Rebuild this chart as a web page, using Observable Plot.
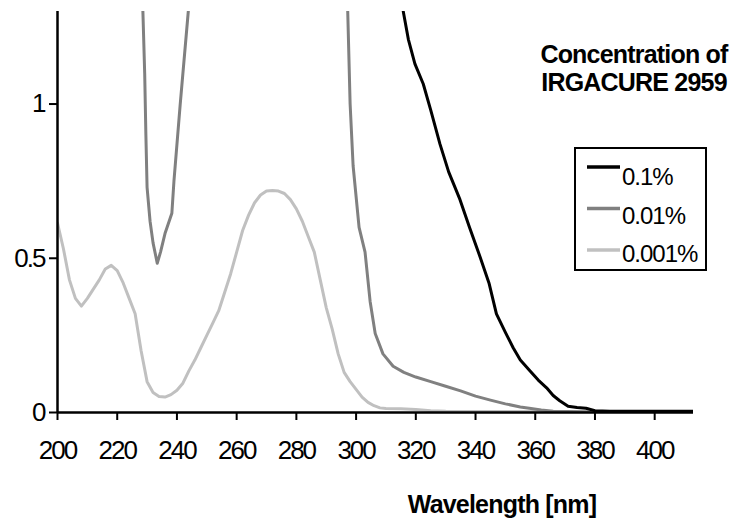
<!DOCTYPE html>
<html><head><meta charset="utf-8">
<script src="https://cdn.jsdelivr.net/npm/d3@7"></script>
<script src="https://cdn.jsdelivr.net/npm/@observablehq/plot@0.6"></script>
<style>
body{margin:0;background:#fff;}
#wrap{position:relative;width:735px;height:520px;font-family:"Liberation Sans",Arial,sans-serif;}
#chart svg text{letter-spacing:-2px;}
#over{position:absolute;left:0;top:0;pointer-events:none;}
</style></head><body>
<div id="wrap"><div id="chart"></div></div>
<script>
// Series names and colours
const seriesNames = ["0.1%", "0.01%", "0.001%"];
const seriesColors = ["#000000", "#808080", "#c0c0c0"];

// 0.1% (black)
const wl_a = [315.4, 315.8, 317.5, 319.7, 322.5, 325, 328.1, 331, 334.8, 338, 341.5, 344.5, 347, 350, 352.6, 355, 358.2, 361, 363.8, 366, 368.2, 371, 374, 377, 380, 385, 413];
const abs_a = [1.4, 1.30, 1.21, 1.13, 1.065, 0.98, 0.87, 0.78, 0.69, 0.6, 0.505, 0.42, 0.32, 0.26, 0.21, 0.17, 0.135, 0.105, 0.08, 0.055, 0.038, 0.02, 0.016, 0.014, 0.006, 0.004, 0.004];

// 0.01% (medium grey); null = off the top of the chart
const wl_b = [228.3, 228.6, 229.2, 229.6, 230.0, 231, 232, 233.4, 234.5, 236, 238.3, 239, 241.1, 243.8, 244.2, 270, 296.8, 297.2, 298, 299, 301, 303, 304.7, 306.4, 309, 312.4, 316, 320, 325, 330, 335, 340, 345, 350, 355, 358, 362, 366, 380, 413];
const abs_b = [1.4, 1.3, 1.1, 0.9, 0.73, 0.62, 0.55, 0.484, 0.52, 0.58, 0.646, 0.75, 1.0, 1.3, 1.4, null, 1.4, 1.3, 1.0, 0.8, 0.6, 0.52, 0.36, 0.256, 0.19, 0.15, 0.13, 0.115, 0.10, 0.085, 0.07, 0.053, 0.04, 0.028, 0.018, 0.014, 0.008, 0.004, 0.002, 0.002];

// 0.001% (light grey)
const wl_c = [200, 202, 204, 206, 208, 210, 212, 214, 216, 218, 220, 222, 224, 226, 228, 230, 232, 234, 236, 238, 240, 242, 244, 246, 248, 250, 252, 254, 256, 258, 260, 262, 264, 266, 268, 270, 272, 274, 276, 278, 280, 282, 284, 286, 288, 290, 292, 294, 296, 298, 300, 302, 304, 306, 308, 310, 315, 320, 325, 330, 340, 360, 380, 413];
const abs_c = [0.614, 0.53, 0.43, 0.37, 0.345, 0.37, 0.40, 0.43, 0.465, 0.477, 0.46, 0.42, 0.37, 0.32, 0.2, 0.1, 0.065, 0.052, 0.05, 0.058, 0.072, 0.095, 0.135, 0.17, 0.21, 0.25, 0.29, 0.33, 0.39, 0.45, 0.52, 0.59, 0.64, 0.68, 0.705, 0.718, 0.72, 0.718, 0.71, 0.69, 0.66, 0.62, 0.57, 0.52, 0.43, 0.34, 0.27, 0.19, 0.13, 0.10, 0.075, 0.05, 0.033, 0.022, 0.015, 0.013, 0.012, 0.01, 0.006, 0.004, 0.003, 0.003, 0.002, 0.002];

// Axes
const xTicks = [200, 220, 240, 260, 280, 300, 320, 340, 360, 380, 400];
const yTicks = [0, 0.5, 1];
const yTickLabels = ["0", "0.5", "1"];
const xLabel = "Wavelength [nm]";
const titleLines = ["Concentration of", "IRGACURE 2959"];

const rows = (wl, ab, s) => wl.map((w, i) => ({wl: w, a: ab[i], s}));
const series = [
  rows(wl_c, abs_c, seriesNames[2]),
  rows(wl_b, abs_b, seriesNames[1]),
  rows(wl_a, abs_a, seriesNames[0])
];
const colorOf = n => seriesColors[seriesNames.indexOf(n)];

const chart = Plot.plot({
  width: 735, height: 520,
  marginLeft: 57, marginRight: 42, marginTop: 11, marginBottom: 108,
  x: {domain: [200, 413]},
  y: {domain: [0, 1.3]},
  style: {fontFamily: '"Liberation Sans", Arial, sans-serif', fontSize: "26px", color: "#000", background: "#fff"},
  marks: [
    ...series.map(d => Plot.line(d, {x: "wl", y: "a", stroke: colorOf(d[0].s), strokeWidth: 3, clip: true})),
    Plot.ruleY([0], {stroke: "#000", strokeWidth: 2.5}),
    Plot.ruleX([200], {stroke: "#000", strokeWidth: 2.5}),
    Plot.axisX({ticks: xTicks, tickSize: 8, tickPadding: 20, strokeWidth: 2, fontSize: 26, label: null, tickFormat: d => String(d)}),
    Plot.axisY({ticks: yTicks, tickSize: 8, tickPadding: 5, strokeWidth: 2, fontSize: 26, label: null, tickFormat: d => yTickLabels[yTicks.indexOf(d)]})
  ]
});
document.getElementById("chart").appendChild(chart);

// Overlay: annotation, legend, x-axis title
const ns = "http://www.w3.org/2000/svg";
const over = document.createElementNS(ns, "svg");
over.setAttribute("id", "over");
over.setAttribute("width", 735);
over.setAttribute("height", 520);
document.getElementById("wrap").appendChild(over);
function txt(str, x, y, opts) {
  const t = document.createElementNS(ns, "text");
  t.textContent = str;
  t.setAttribute("x", x); t.setAttribute("y", y);
  t.setAttribute("font-family", '"Liberation Sans", Arial, sans-serif');
  for (const k in opts) t.setAttribute(k, opts[k]);
  over.appendChild(t);
}
titleLines.forEach((l, i) => txt(l, 634, 63 + i * 28, {"font-size": 25, "font-weight": "bold", "text-anchor": "middle", "letter-spacing": "-0.8"}));
txt(xLabel, 502, 513, {"font-size": 25, "font-weight": "bold", "text-anchor": "middle", "letter-spacing": "-0.8"});

const box = document.createElementNS(ns, "rect");
box.setAttribute("x", 575); box.setAttribute("y", 148);
box.setAttribute("width", 131); box.setAttribute("height", 122);
box.setAttribute("fill", "none"); box.setAttribute("stroke", "#000"); box.setAttribute("stroke-width", 2);
over.appendChild(box);
seriesNames.forEach((n, i) => {
  const ly = 167 + i * 41.5;
  const ln = document.createElementNS(ns, "line");
  ln.setAttribute("x1", 587); ln.setAttribute("x2", 620);
  ln.setAttribute("y1", ly); ln.setAttribute("y2", ly);
  ln.setAttribute("stroke", seriesColors[i]); ln.setAttribute("stroke-width", 3.5);
  over.appendChild(ln);
  txt(n, 622, 185 + i * 38.5, {"font-size": 24, "letter-spacing": "-1"});
});
</script>
</body></html>
